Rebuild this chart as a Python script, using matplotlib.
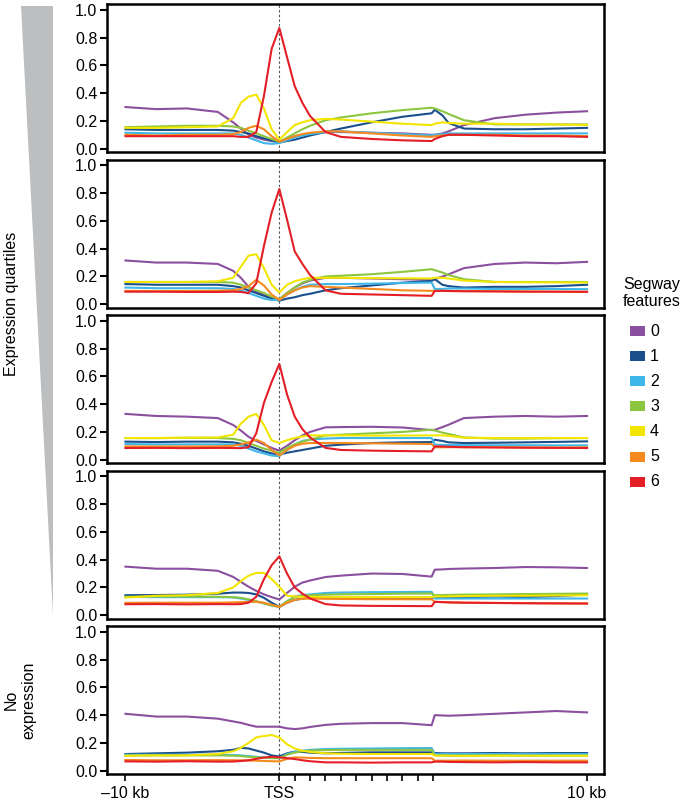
import matplotlib
matplotlib.use('Agg')
import matplotlib.pyplot as plt
from matplotlib.patches import Polygon, Rectangle

plt.rcParams['font.family'] = ['Liberation Sans', 'DejaVu Sans']

# x positions: upstream -10..0 kb, scaled gene body 0..10, downstream 10..20
x_pos = [-10, -8, -6, -4, -3, -2.5, -2, -1.5, -1, -0.5, 0, 0.5, 1, 1.5, 2, 3, 4, 6, 8, 9.9,
         10.1, 10.6, 11, 12, 14, 16, 18, 20]

features = ['0', '1', '2', '3', '4', '5', '6']
feature_colors = ['#8a4f9e', '#1b4f8c', '#3fb7e9', '#8cc63e', '#f2e500', '#f58a1f', '#e41e26']

# fraction of positions per Segway feature, one list per feature, panels top to bottom
q1_vals = [
    [0.30, 0.285, 0.29, 0.265, 0.19, 0.145, 0.10, 0.08, 0.065, 0.055, 0.05, 0.07, 0.09, 0.10, 0.11, 0.12, 0.12, 0.115, 0.11, 0.10, 0.10, 0.11, 0.125, 0.17, 0.22, 0.245, 0.26, 0.27],
    [0.14, 0.135, 0.135, 0.135, 0.13, 0.12, 0.11, 0.09, 0.075, 0.06, 0.045, 0.055, 0.065, 0.08, 0.095, 0.12, 0.145, 0.19, 0.23, 0.255, 0.28, 0.24, 0.185, 0.145, 0.14, 0.14, 0.145, 0.15],
    [0.115, 0.11, 0.11, 0.11, 0.11, 0.10, 0.08, 0.06, 0.04, 0.035, 0.04, 0.06, 0.08, 0.095, 0.105, 0.12, 0.125, 0.115, 0.105, 0.095, 0.10, 0.105, 0.11, 0.11, 0.11, 0.11, 0.11, 0.11],
    [0.155, 0.16, 0.165, 0.165, 0.16, 0.15, 0.13, 0.11, 0.09, 0.07, 0.05, 0.08, 0.11, 0.14, 0.165, 0.205, 0.225, 0.255, 0.278, 0.295, 0.29, 0.27, 0.25, 0.205, 0.175, 0.175, 0.175, 0.175],
    [0.15, 0.15, 0.155, 0.16, 0.22, 0.33, 0.375, 0.39, 0.29, 0.14, 0.065, 0.12, 0.17, 0.19, 0.205, 0.215, 0.21, 0.195, 0.18, 0.17, 0.18, 0.19, 0.185, 0.18, 0.18, 0.175, 0.175, 0.17],
    [0.10, 0.095, 0.10, 0.10, 0.105, 0.12, 0.15, 0.165, 0.14, 0.09, 0.05, 0.07, 0.09, 0.105, 0.115, 0.125, 0.125, 0.11, 0.095, 0.085, 0.09, 0.095, 0.10, 0.10, 0.10, 0.095, 0.095, 0.09],
    [0.09, 0.09, 0.09, 0.09, 0.09, 0.085, 0.085, 0.12, 0.38, 0.72, 0.87, 0.66, 0.45, 0.33, 0.235, 0.12, 0.085, 0.07, 0.06, 0.055, 0.07, 0.09, 0.10, 0.10, 0.095, 0.09, 0.09, 0.085],
]
q2_vals = [
    [0.315, 0.30, 0.30, 0.29, 0.24, 0.19, 0.125, 0.09, 0.065, 0.045, 0.035, 0.08, 0.12, 0.15, 0.17, 0.19, 0.19, 0.185, 0.18, 0.175, 0.18, 0.20, 0.215, 0.26, 0.29, 0.30, 0.295, 0.305],
    [0.145, 0.14, 0.14, 0.14, 0.13, 0.12, 0.10, 0.08, 0.06, 0.04, 0.025, 0.04, 0.05, 0.065, 0.075, 0.10, 0.115, 0.135, 0.155, 0.168, 0.18, 0.14, 0.13, 0.12, 0.125, 0.125, 0.13, 0.14],
    [0.12, 0.115, 0.115, 0.115, 0.11, 0.10, 0.08, 0.06, 0.04, 0.03, 0.03, 0.07, 0.10, 0.125, 0.14, 0.145, 0.145, 0.148, 0.152, 0.156, 0.11, 0.11, 0.113, 0.113, 0.11, 0.11, 0.11, 0.108],
    [0.16, 0.16, 0.16, 0.16, 0.155, 0.14, 0.12, 0.10, 0.08, 0.055, 0.036, 0.08, 0.12, 0.156, 0.175, 0.20, 0.205, 0.216, 0.233, 0.252, 0.245, 0.228, 0.21, 0.18, 0.16, 0.16, 0.16, 0.16],
    [0.16, 0.16, 0.16, 0.165, 0.19, 0.27, 0.35, 0.36, 0.26, 0.14, 0.084, 0.14, 0.165, 0.18, 0.19, 0.19, 0.19, 0.188, 0.186, 0.185, 0.19, 0.19, 0.185, 0.17, 0.16, 0.158, 0.157, 0.156],
    [0.096, 0.095, 0.095, 0.097, 0.10, 0.11, 0.13, 0.175, 0.135, 0.07, 0.03, 0.07, 0.10, 0.12, 0.13, 0.125, 0.12, 0.11, 0.10, 0.096, 0.096, 0.096, 0.095, 0.095, 0.093, 0.092, 0.09, 0.089],
    [0.09, 0.09, 0.088, 0.088, 0.09, 0.088, 0.08, 0.15, 0.42, 0.66, 0.83, 0.61, 0.38, 0.29, 0.21, 0.10, 0.075, 0.07, 0.065, 0.06, 0.095, 0.096, 0.095, 0.093, 0.092, 0.09, 0.09, 0.089],
]
q3_vals = [
    [0.33, 0.315, 0.31, 0.30, 0.25, 0.21, 0.165, 0.135, 0.11, 0.085, 0.065, 0.10, 0.14, 0.175, 0.20, 0.233, 0.235, 0.237, 0.232, 0.213, 0.215, 0.235, 0.252, 0.30, 0.31, 0.315, 0.31, 0.315],
    [0.13, 0.127, 0.13, 0.13, 0.125, 0.115, 0.10, 0.08, 0.06, 0.045, 0.036, 0.05, 0.06, 0.07, 0.08, 0.10, 0.108, 0.12, 0.125, 0.127, 0.144, 0.135, 0.125, 0.12, 0.122, 0.125, 0.128, 0.132],
    [0.113, 0.11, 0.11, 0.11, 0.11, 0.10, 0.08, 0.06, 0.045, 0.03, 0.025, 0.07, 0.11, 0.135, 0.145, 0.152, 0.156, 0.156, 0.156, 0.156, 0.108, 0.107, 0.106, 0.105, 0.104, 0.104, 0.103, 0.103],
    [0.156, 0.155, 0.158, 0.156, 0.15, 0.14, 0.12, 0.10, 0.08, 0.065, 0.05, 0.085, 0.11, 0.13, 0.144, 0.175, 0.18, 0.19, 0.20, 0.216, 0.21, 0.195, 0.185, 0.16, 0.152, 0.152, 0.155, 0.156],
    [0.156, 0.156, 0.158, 0.16, 0.18, 0.26, 0.31, 0.33, 0.25, 0.14, 0.12, 0.14, 0.156, 0.168, 0.175, 0.175, 0.175, 0.174, 0.174, 0.175, 0.175, 0.175, 0.172, 0.158, 0.156, 0.155, 0.156, 0.156],
    [0.096, 0.095, 0.095, 0.096, 0.10, 0.11, 0.125, 0.144, 0.12, 0.07, 0.03, 0.07, 0.10, 0.115, 0.12, 0.12, 0.12, 0.118, 0.115, 0.113, 0.089, 0.089, 0.09, 0.09, 0.09, 0.089, 0.088, 0.089],
    [0.084, 0.085, 0.083, 0.085, 0.084, 0.083, 0.09, 0.19, 0.41, 0.56, 0.69, 0.47, 0.31, 0.22, 0.16, 0.085, 0.07, 0.065, 0.062, 0.06, 0.096, 0.095, 0.093, 0.09, 0.088, 0.086, 0.085, 0.084],
]
q4_vals = [
    [0.35, 0.335, 0.335, 0.32, 0.276, 0.24, 0.205, 0.175, 0.15, 0.13, 0.113, 0.16, 0.205, 0.235, 0.25, 0.275, 0.285, 0.30, 0.297, 0.278, 0.328, 0.33, 0.333, 0.336, 0.34, 0.347, 0.345, 0.34],
    [0.144, 0.145, 0.148, 0.155, 0.163, 0.163, 0.16, 0.15, 0.125, 0.09, 0.06, 0.09, 0.11, 0.12, 0.127, 0.125, 0.125, 0.125, 0.125, 0.125, 0.13, 0.13, 0.128, 0.13, 0.135, 0.13, 0.138, 0.149],
    [0.132, 0.13, 0.13, 0.13, 0.128, 0.12, 0.11, 0.10, 0.085, 0.07, 0.06, 0.10, 0.135, 0.145, 0.15, 0.16, 0.163, 0.166, 0.167, 0.168, 0.12, 0.12, 0.12, 0.12, 0.12, 0.12, 0.12, 0.12],
    [0.132, 0.135, 0.135, 0.133, 0.13, 0.125, 0.115, 0.10, 0.085, 0.07, 0.06, 0.10, 0.13, 0.14, 0.144, 0.148, 0.15, 0.152, 0.155, 0.156, 0.144, 0.145, 0.146, 0.148, 0.15, 0.152, 0.154, 0.156],
    [0.127, 0.14, 0.144, 0.16, 0.20, 0.245, 0.285, 0.305, 0.305, 0.26, 0.204, 0.14, 0.135, 0.132, 0.132, 0.13, 0.13, 0.13, 0.13, 0.13, 0.135, 0.135, 0.136, 0.138, 0.14, 0.14, 0.142, 0.144],
    [0.089, 0.09, 0.09, 0.09, 0.092, 0.094, 0.096, 0.096, 0.09, 0.075, 0.06, 0.09, 0.11, 0.118, 0.12, 0.118, 0.117, 0.115, 0.115, 0.114, 0.096, 0.095, 0.093, 0.09, 0.088, 0.087, 0.085, 0.084],
    [0.079, 0.08, 0.078, 0.08, 0.079, 0.08, 0.09, 0.132, 0.26, 0.36, 0.424, 0.30, 0.20, 0.155, 0.12, 0.08, 0.07, 0.067, 0.066, 0.065, 0.096, 0.094, 0.092, 0.09, 0.088, 0.086, 0.085, 0.084],
]
none_vals = [
    [0.41, 0.39, 0.39, 0.375, 0.355, 0.345, 0.33, 0.317, 0.317, 0.317, 0.317, 0.305, 0.30, 0.305, 0.315, 0.33, 0.338, 0.343, 0.343, 0.328, 0.40, 0.398, 0.396, 0.40, 0.41, 0.42, 0.43, 0.42],
    [0.12, 0.125, 0.13, 0.14, 0.15, 0.165, 0.16, 0.145, 0.13, 0.11, 0.103, 0.125, 0.137, 0.135, 0.13, 0.125, 0.128, 0.132, 0.132, 0.132, 0.127, 0.125, 0.125, 0.125, 0.127, 0.125, 0.127, 0.127],
    [0.115, 0.115, 0.115, 0.115, 0.113, 0.11, 0.105, 0.10, 0.095, 0.092, 0.09, 0.12, 0.135, 0.145, 0.15, 0.156, 0.158, 0.16, 0.162, 0.163, 0.12, 0.12, 0.12, 0.12, 0.12, 0.12, 0.12, 0.12],
    [0.108, 0.11, 0.11, 0.11, 0.108, 0.105, 0.10, 0.097, 0.093, 0.09, 0.09, 0.115, 0.13, 0.14, 0.145, 0.148, 0.15, 0.15, 0.15, 0.15, 0.11, 0.11, 0.108, 0.108, 0.11, 0.108, 0.108, 0.108],
    [0.108, 0.11, 0.11, 0.12, 0.14, 0.165, 0.20, 0.24, 0.25, 0.257, 0.24, 0.19, 0.16, 0.144, 0.135, 0.125, 0.122, 0.12, 0.12, 0.12, 0.108, 0.108, 0.108, 0.107, 0.108, 0.108, 0.108, 0.108],
    [0.077, 0.075, 0.075, 0.076, 0.075, 0.074, 0.073, 0.072, 0.07, 0.068, 0.067, 0.085, 0.096, 0.094, 0.092, 0.09, 0.09, 0.09, 0.09, 0.09, 0.072, 0.072, 0.072, 0.073, 0.072, 0.072, 0.072, 0.072],
    [0.067, 0.065, 0.068, 0.065, 0.066, 0.07, 0.075, 0.085, 0.095, 0.10, 0.096, 0.09, 0.084, 0.075, 0.068, 0.06, 0.06, 0.058, 0.06, 0.06, 0.065, 0.065, 0.063, 0.062, 0.06, 0.062, 0.06, 0.06],
]
panels = [q1_vals, q2_vals, q3_vals, q4_vals, none_vals]

y_ticks = [0.0, 0.2, 0.4, 0.6, 0.8, 1.0]
x_major = [-10, 0, 20]
x_major_labels = ['\u201310 kb', 'TSS', '10 kb']
x_minor = [1, 2, 3, 4, 5, 6, 7, 8, 9, 10]

W, H = 685, 806
FS = 11.5


def fig_box(left, top, w, h):
    # pixel box (from top-left) -> figure fraction
    return [left / W, 1 - (top + h) / H, w / W, h / H]


fig = plt.figure(figsize=(W / 100, H / 100), dpi=100)
fig.patch.set_facecolor('white')

for i, vals in enumerate(panels):
    ax = fig.add_axes(fig_box(107, 4 + 155.5 * i, 497, 148))
    ax.axvline(0, color='#555555', lw=0.8, ls=(0, (2.2, 2.0)), zorder=1)
    for f, col in enumerate(feature_colors):
        ax.plot(x_pos, vals[f], color=col, lw=1.5, zorder=2 + f)
    ax.set_xlim(-11.2, 21.1)
    ax.set_ylim(-0.024, 1.043)
    ax.set_yticks(y_ticks)
    ax.set_yticklabels([f'{t:.1f}' for t in y_ticks], fontsize=FS)
    for s in ax.spines.values():
        s.set_linewidth(1.8)
    ax.tick_params(axis='y', direction='out', length=5, width=1.5, pad=2)
    if i < len(panels) - 1:
        ax.set_xticks([])
    else:
        ax.set_xticks(x_major)
        ax.set_xticklabels(x_major_labels, fontsize=FS)
        ax.set_xticks(x_minor, minor=True)
        ax.tick_params(axis='x', which='both', direction='out', length=5, width=1.2, pad=4)

# grey wedge for expression level
wedge = Polygon([(21 / W, 1 - 6 / H), (53 / W, 1 - 6 / H), (53 / W, 1 - 615 / H)],
                closed=True, transform=fig.transFigure, facecolor='#bcbec0', edgecolor='none')
fig.add_artist(wedge)

fig.text(12 / W, 1 - 304 / H, 'Expression quartiles', rotation=90, ha='center', va='center', fontsize=FS)
fig.text(20 / W, 1 - 700 / H, 'No\nexpression', rotation=90, ha='center', va='center',
         multialignment='center', fontsize=FS)

# legend
fig.text(652 / W, 1 - 293 / H, 'Segway\nfeatures', ha='center', va='center',
         multialignment='center', fontsize=FS)
for k, (lab, col) in enumerate(zip(features, feature_colors)):
    yc = 331 + 25.1 * k
    fig.add_artist(Rectangle((630 / W, 1 - (yc + 5) / H), 15 / W, 10 / H,
                             transform=fig.transFigure, facecolor=col, edgecolor='none'))
    fig.text(650 / W, 1 - yc / H, lab, ha='left', va='center', fontsize=FS)

fig.savefig('out.png', dpi=100)
